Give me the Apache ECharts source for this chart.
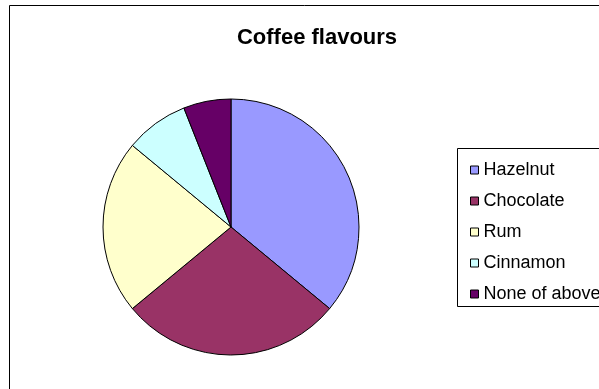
<!DOCTYPE html>
<html>
<head>
<meta charset="utf-8">
<script src="https://cdn.jsdelivr.net/npm/echarts@6/dist/echarts.min.js"></script>
<style>
html,body{margin:0;padding:0;background:#fff;}
#chart{width:599px;height:389px;}
</style>
</head>
<body>
<div id="chart"></div>
<script>
const titleText = 'Coffee flavours';
const categories = ['Hazelnut', 'Chocolate', 'Rum', 'Cinnamon', 'None of above'];
const values = [36, 28, 22, 8, 6];
const colors = ['#9999FF', '#993366', '#FFFFCC', '#CCFFFF', '#660066'];

const chart = echarts.init(document.getElementById('chart'), null, {renderer: 'canvas'});
const data = categories.map((c, i) => ({name: c, value: values[i], itemStyle: {color: colors[i]}}));

chart.setOption({
  animation: false,
  backgroundColor: '#ffffff',
  title: {
    text: titleText,
    left: 312,
    textAlign: 'center',
    top: 22,
    textStyle: {fontFamily: 'Liberation Sans, Arial, sans-serif', fontSize: 22, fontWeight: 'bold', color: '#000'}
  },
  graphic: [
    {type: 'rect', shape: {x: 9.5, y: 5.5, width: 700, height: 500}, style: {fill: 'none', stroke: '#000', lineWidth: 1}, z: 0},
    {type: 'rect', shape: {x: 457.5, y: 148.5, width: 300, height: 158}, style: {fill: 'none', stroke: '#000', lineWidth: 1}, z: 0}
  ],
  legend: {
    orient: 'vertical',
    left: 465,
    top: 156,
    itemWidth: 8,
    itemHeight: 8,
    itemGap: 13,
    icon: 'rect',
    selectedMode: false,
    itemStyle: {borderColor: '#000', borderWidth: 1},
    textStyle: {fontFamily: 'Liberation Sans, Arial, sans-serif', fontSize: 18, color: '#000', lineHeight: 18},
    data: categories
  },
  series: [{
    type: 'pie',
    center: [231, 227],
    radius: 128,
    startAngle: 90,
    clockwise: true,
    label: {show: false},
    labelLine: {show: false},
    silent: true,
    itemStyle: {borderColor: '#000', borderWidth: 1},
    emphasis: {disabled: true},
    data: data
  }]
});
</script>
</body>
</html>
